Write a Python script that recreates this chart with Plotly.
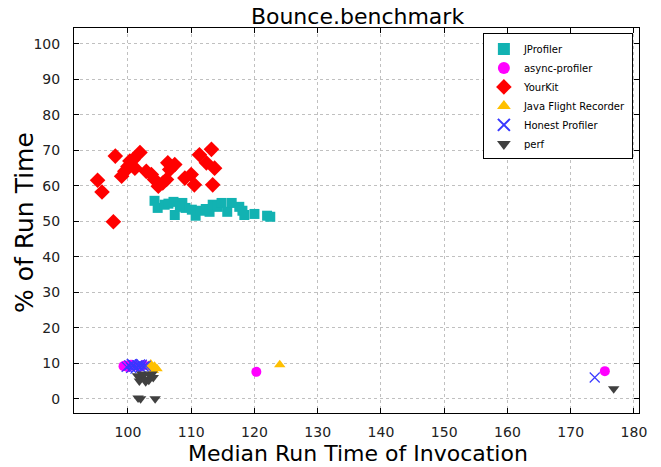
import plotly.graph_objects as go

# --- data: median run time of invocation (x) vs. % of run time (y) ---
jprofiler_x = [104.2, 104.7, 105.8, 107.2, 107.4, 108.6, 109.1, 110.1, 110.7, 111.5,
               112.3, 112.9, 113.4, 114.2, 114.8, 115.7, 116.4, 117.6, 118.1, 118.4,
               120.0, 122.0, 122.5, 108.2, 106.4]
jprofiler_y = [55.8, 53.8, 54.7, 55.5, 51.8, 55.2, 53.8, 53.3, 51.6, 53.0,
               53.5, 52.7, 54.7, 54.1, 55.2, 52.7, 55.2, 54.1, 53.0, 51.8,
               52.1, 51.6, 51.3, 54.1, 55.0]

async_x = [99.3, 99.6, 100.0, 100.5, 101.0, 101.8, 102.5, 120.3, 175.4]
async_y = [9.2, 9.4, 8.9, 9.6, 9.3, 9.0, 9.5, 7.6, 7.8]

yourkit_x = [95.2, 95.9, 97.7, 98.0, 101.9, 100.3, 100.8, 99.5, 99.0, 101.1,
             102.9, 103.7, 104.2, 104.8, 106.1, 106.3, 107.4, 106.6, 109.0, 110.0,
             110.5, 111.3, 113.2, 112.4, 113.7, 113.4, 100.0, 105.5]
yourkit_y = [61.6, 58.3, 49.9, 68.4, 69.4, 67.0, 67.4, 64.1, 62.7, 65.0,
             64.1, 63.2, 61.8, 59.9, 61.8, 66.5, 66.0, 64.6, 62.2, 63.2,
             60.3, 68.8, 70.3, 66.5, 65.0, 60.3, 65.5, 60.8]

jfr_x = [103.3, 103.8, 104.2, 104.6, 103.6, 104.0, 124.0]
jfr_y = [9.4, 8.8, 9.2, 8.5, 9.8, 8.0, 9.6]

honest_x = [99.8, 100.2, 100.5, 100.8, 101.0, 101.3, 101.5, 101.7, 102.0, 102.2,
            102.5, 102.8, 100.6, 101.2, 101.9, 173.8]
honest_y = [9.0, 9.4, 8.7, 9.6, 9.1, 8.8, 9.5, 9.2, 8.9, 9.6,
            9.1, 9.3, 9.8, 8.5, 9.7, 6.0]

perf_x = [101.5, 102.0, 102.5, 103.0, 103.5, 104.0, 101.8, 102.8, 103.3, 102.2,
          103.8, 101.6, 102.0, 104.3, 176.8]
perf_y = [6.5, 5.8, 6.8, 5.5, 6.5, 6.0, 5.0, 4.8, 5.2, 7.0,
          7.0, 0.2, 0.0, 0.0, 2.8]

x_ticks = [100, 110, 120, 130, 140, 150, 160, 170, 180]
y_ticks = [0, 10, 20, 30, 40, 50, 60, 70, 80, 90, 100]

series = [
    ("JProfiler", jprofiler_x, jprofiler_y, "square", "#12b2b2", 10),
    ("async-profiler", async_x, async_y, "circle", "#ff00ff", 10),
    ("YourKit", yourkit_x, yourkit_y, "diamond", "#ff0000", 12),
    ("Java Flight Recorder", jfr_x, jfr_y, "triangle-up", "#ffc000", 10),
    ("Honest Profiler", honest_x, honest_y, "x-thin", "#3838ff", 10),
    ("perf", perf_x, perf_y, "triangle-down", "#404040", 10),
]

fig = go.Figure()
for name, xs, ys, sym, col, size in series:
    line = dict(width=1.2, color=col) if sym == "x-thin" else dict(width=0)
    fig.add_trace(go.Scatter(
        x=xs, y=ys, mode="markers", name=name,
        marker=dict(symbol=sym, color=col, size=size, line=line),
    ))

axis_common = dict(
    showline=True, linecolor="#000000", linewidth=1, mirror="ticks",
    ticks="inside", ticklen=5, tickcolor="#000000",
    showgrid=True, gridcolor="#c0c0c0", griddash="dot", gridwidth=1,
    zeroline=False, automargin=False,
    tickfont=dict(family="DejaVu Sans", size=14, color="#222222"),
)

W, H = 661, 467
L, R, T, B = 74, 22, 28, 54
plot_w, plot_h = W - L - R, H - T - B

fig.update_layout(
    width=W, height=H,
    margin=dict(l=L, r=R, t=T, b=B),
    paper_bgcolor="white", plot_bgcolor="white",
    font=dict(family="DejaVu Sans", color="#000000"),
    title=dict(text="Bounce.benchmark", x=357.5 / W, xanchor="center",
               y=1 - 16 / H, yanchor="middle",
               font=dict(family="DejaVu Sans", size=22, color="#000000")),
    xaxis=dict(range=[91.47, 180.8], tickvals=x_ticks, ticklabelstandoff=6,
               **axis_common),
    yaxis=dict(range=[-4.0, 104.5], tickvals=y_ticks, ticklabelstandoff=10,
               **axis_common),
    legend=dict(
        x=0.7237, y=0.986, xanchor="left", yanchor="top",
        bgcolor="white", bordercolor="#000000", borderwidth=1,
        font=dict(family="DejaVu Sans", size=10, color="#000000"),
        itemsizing="constant",
    ),
    showlegend=True,
    annotations=[
        # axis titles, placed in pixel offsets from the plot area
        dict(text="Median Run Time of Invocation", xref="paper", yref="paper",
             x=(358 - L) / plot_w, y=-(453 - (H - B)) / plot_h,
             xanchor="center", yanchor="middle", showarrow=False,
             font=dict(family="DejaVu Sans", size=22, color="#000000")),
        dict(text="% of Run Time", xref="paper", yref="paper",
             x=-(L - 24) / plot_w, y=((H - B) - 223) / plot_h,
             xanchor="center", yanchor="middle", showarrow=False, textangle=-90,
             font=dict(family="DejaVu Sans", size=25, color="#000000")),
    ],
)

fig.write_html("out.html")
